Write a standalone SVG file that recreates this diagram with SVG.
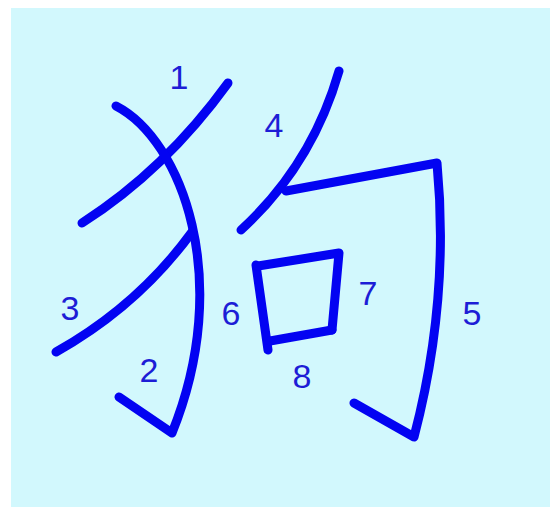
<svg xmlns="http://www.w3.org/2000/svg" width="550" height="507" viewBox="0 0 550 507">
<style>
.s{fill:none;stroke:#0303f2;stroke-width:9;stroke-linecap:round;stroke-linejoin:round}
.n{font-family:"Liberation Sans",Arial,sans-serif;font-size:34px;fill:#1d1dd6;text-anchor:middle}
</style>
<rect x="0" y="0" width="550" height="507" fill="#ffffff"/>
<rect x="11" y="8" width="539" height="499" fill="#d2f8fd"/>
<g id="stroke1"><path class="s" d="M228,83 Q165,170 82,223"/></g>
<g id="stroke2"><path class="s" d="M116,106 C182,140 234,280 172,433 L119,397"/></g>
<g id="stroke3"><path class="s" d="M192,232 Q138,306 56,352"/></g>
<g id="stroke4"><path class="s" d="M339,71 Q312,165 241,230"/></g>
<g id="stroke5"><path class="s" d="M286,191 L437,163 Q450,300 414,437 L354,403"/></g>
<g id="stroke6"><path class="s" d="M256,265 L268,350"/></g>
<g id="stroke7"><path class="s" d="M258,266 L339,253 L332,330"/></g>
<g id="stroke8"><path class="s" d="M270,341 L332,330"/></g>
<g id="labels">
<text class="n" x="179" y="89">1</text>
<text class="n" x="274" y="137">4</text>
<text class="n" x="70" y="320">3</text>
<text class="n" x="149" y="382">2</text>
<text class="n" x="231" y="325">6</text>
<text class="n" x="368" y="305">7</text>
<text class="n" x="472" y="325">5</text>
<text class="n" x="302" y="388">8</text>
</g>
</svg>
